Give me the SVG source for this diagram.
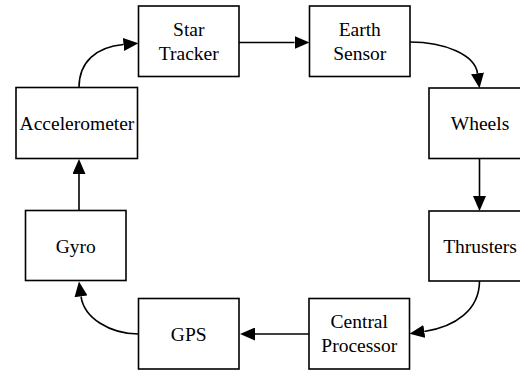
<svg xmlns="http://www.w3.org/2000/svg" width="520" height="375" viewBox="0 0 520 375">
  <style>
    .box { fill: #ffffff; stroke: #000000; stroke-width: 1.6; }
    .edge { fill: none; stroke: #000000; stroke-width: 1.6; marker-end: url(#arrow); }
  </style>
  <defs>
    <!-- filled arrowhead; its base sits on the path end, tip extends 15px beyond -->
    <marker id="arrow" viewBox="0 0 15 13" refX="0" refY="6.5" markerWidth="15" markerHeight="13" markerUnits="userSpaceOnUse" orient="auto">
      <path d="M0,0 L15,6.5 L0,13 Z" fill="#000000"/>
    </marker>
  </defs>
  <rect width="520" height="375" fill="#ffffff"/>

  <g id="connectors">
    <path class="edge" d="M79,87.5 C79,62 96,47 123.5,44.5"/>
    <path class="edge" d="M239,42.5 L294.5,42.5"/>
    <path class="edge" d="M410,42 C445,42 475,55 477.5,73.3"/>
    <path class="edge" d="M479.5,158.5 L479.5,196"/>
    <path class="edge" d="M479.5,281 C479.5,310 455,327 424.3,331.5"/>
    <path class="edge" d="M309,334 L255,334"/>
    <path class="edge" d="M138.5,334 C110,334 84,318 81,296.3"/>
    <path class="edge" d="M79,210.5 L79,174"/>
  </g>

  <g font-family="Liberation Serif, Times New Roman, serif" font-size="19.5" fill="#000000" text-anchor="middle">
    <g id="star-tracker">
      <rect class="box" x="138.5" y="6" width="100.5" height="70.5"/>
      <text x="188.75" y="35.5">Star</text>
      <text x="188.75" y="59.5">Tracker</text>
    </g>
    <g id="earth-sensor">
      <rect class="box" x="309.5" y="6" width="100.5" height="70.5"/>
      <text x="359.75" y="35.5">Earth</text>
      <text x="359.75" y="59.5">Sensor</text>
    </g>
    <g id="wheels">
      <rect class="box" x="429" y="88" width="101" height="70.5"/>
      <text x="480" y="130">Wheels</text>
    </g>
    <g id="thrusters">
      <rect class="box" x="429" y="211" width="101" height="70"/>
      <text x="480" y="253">Thrusters</text>
    </g>
    <g id="central-processor">
      <rect class="box" x="309" y="298.5" width="100.5" height="70.5"/>
      <text x="359.25" y="328">Central</text>
      <text x="359.25" y="352">Processor</text>
    </g>
    <g id="gps">
      <rect class="box" x="138.5" y="298.5" width="100.5" height="70.5"/>
      <text x="188.75" y="341">GPS</text>
    </g>
    <g id="gyro">
      <rect class="box" x="25.5" y="210.5" width="100.5" height="70"/>
      <text x="75.75" y="252.5">Gyro</text>
    </g>
    <g id="accelerometer">
      <rect class="box" x="16" y="87.5" width="121.5" height="71"/>
      <text x="77" y="130">Accelerometer</text>
    </g>
  </g>
</svg>
